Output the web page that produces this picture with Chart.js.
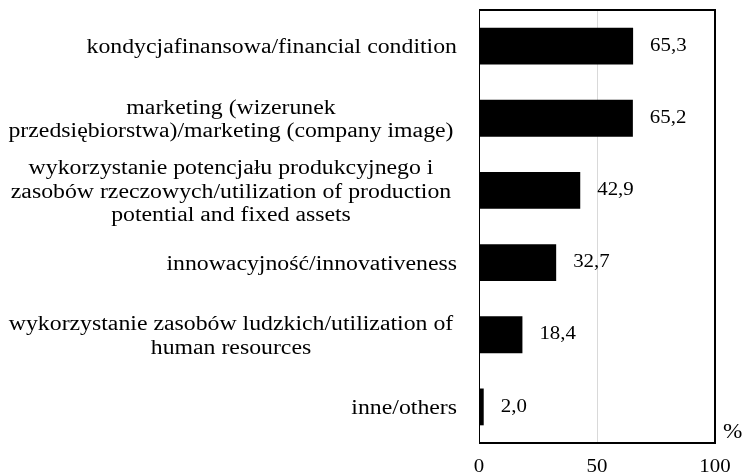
<!DOCTYPE html>
<html>
<head>
<meta charset="utf-8">
<script src="https://cdn.jsdelivr.net/npm/chart.js@4.4.1/dist/chart.umd.min.js"></script>
<style>
  body { margin: 0; background: #fff; }
  #wrap { width: 744px; height: 475px; }
</style>
</head>
<body>
<div id="wrap"><canvas id="myChart-Factors"></canvas></div>
<script>
const categories = [
  ['kondycjafinansowa/financial condition'],
  ['marketing (wizerunek', 'przedsiębiorstwa)/marketing (company image)'],
  ['wykorzystanie potencjału produkcyjnego i', 'zasobów rzeczowych/utilization of production', 'potential and fixed assets'],
  ['innowacyjność/innovativeness'],
  ['wykorzystanie zasobów ludzkich/utilization of', 'human resources'],
  ['inne/others']
];
const shares = [65.3, 65.2, 42.9, 32.7, 18.4, 2.0];
const xTicks = [0, 50, 100];
const unitLabel = '%';

const serif = "'Liberation Serif', 'Times New Roman', serif";
const stretch = 1.16;

// draws text a bit wider than normal, like the source picture
function wideText(ctx, text, x, y, align) {
  ctx.save();
  ctx.translate(x, y);
  ctx.scale(stretch, 1);
  ctx.textAlign = align;
  ctx.fillText(text, 0, 0);
  ctx.restore();
}

const factorLabels = {
  id: 'factorLabels',
  afterDatasetsDraw(chart) {
    const ctx = chart.ctx;
    const area = chart.chartArea;
    const yScale = chart.scales.y;
    const xScale = chart.scales.x;
    ctx.save();
    ctx.fillStyle = '#000';
    ctx.textBaseline = 'middle';

    // category labels: wrapped ones centered, single lines right aligned
    ctx.font = '20.5px ' + serif;
    categories.forEach((lines, i) => {
      const yc = yScale.getPixelForTick(i) + 2;
      const lh = 23.5;
      const y0 = yc - (lines.length - 1) * lh / 2;
      if (lines.length === 1) {
        wideText(ctx, lines[0], area.left - 22, y0, 'right');
      } else {
        lines.forEach((t, j) => wideText(ctx, t, (area.left - 17) / 2, y0 + j * lh, 'center'));
      }
    });

    // value labels
    ctx.font = '18px ' + serif;
    chart.getDatasetMeta(0).data.forEach((bar, i) => {
      wideText(ctx, shares[i].toFixed(1).replace('.', ','), bar.x + 17, bar.y, 'left');
    });

    // x tick labels
    xTicks.forEach(v => {
      wideText(ctx, String(v), xScale.getPixelForValue(v), area.bottom + 24, 'center');
    });

    // frame
    ctx.strokeStyle = '#000';
    ctx.lineWidth = 1;
    ctx.beginPath();
    ctx.moveTo(area.left + 0.5, area.top);
    ctx.lineTo(area.left + 0.5, area.bottom);
    ctx.stroke();
    ctx.lineWidth = 2;
    ctx.beginPath();
    ctx.moveTo(area.left, area.top);
    ctx.lineTo(area.right, area.top);
    ctx.lineTo(area.right, area.bottom);
    ctx.lineTo(area.left, area.bottom);
    ctx.stroke();

    ctx.font = '20px ' + serif;
    wideText(ctx, unitLabel, area.right + 8, area.bottom - 10, 'left');
    ctx.restore();
  }
};

const factorChart = document.getElementById('myChart-Factors');

new Chart(factorChart, {
  type: 'bar',
  data: {
    labels: categories,
    datasets: [{
      data: shares,
      backgroundColor: '#000',
      borderWidth: 0,
      barPercentage: 0.51,
      categoryPercentage: 1
    }]
  },
  options: {
    indexAxis: 'y',
    responsive: true,
    maintainAspectRatio: false,
    animation: false,
    layout: {
      padding: { left: 479, right: 29, top: 10, bottom: 0 }
    },
    plugins: {
      legend: { display: false },
      tooltip: { enabled: false }
    },
    scales: {
      x: {
        min: 0,
        max: 100,
        afterBuildTicks: (scale) => {
          scale.ticks = xTicks.map(v => ({ value: v }));
        },
        afterFit: (scale) => {
          scale.height = 32;
        },
        border: { display: false },
        grid: {
          drawTicks: false,
          color: (c) => (c.tick && c.tick.value === 50 ? '#d9d9d9' : 'rgba(0,0,0,0)'),
          lineWidth: 1
        },
        ticks: { display: false }
      },
      y: {
        display: false
      }
    }
  },
  plugins: [factorLabels]
});
</script>
</body>
</html>
